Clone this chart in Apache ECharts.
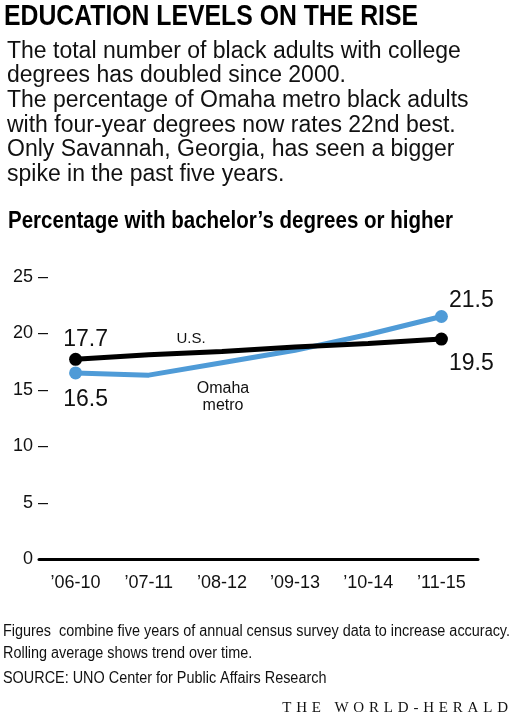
<!DOCTYPE html>
<html>
<head>
<meta charset="utf-8">
<script src="https://cdn.jsdelivr.net/npm/echarts@6/dist/echarts.min.js"></script>
<style>
  html, body { margin: 0; padding: 0; background: #fff; }
  #chart { width: 513px; height: 717px; }
</style>
</head>
<body>
<div id="chart"></div>
<script>
// periods on the x axis (five-year rolling averages)
const periods = ['\u201906-10', '\u201907-11', '\u201908-12', '\u201909-13', '\u201910-14', '\u201911-15'];
// percent of black adults with bachelor's degree or higher
const usValues = [17.7, 18.1, 18.4, 18.8, 19.1, 19.5];
const omahaValues = [16.5, 16.3, 17.4, 18.5, 19.9, 21.5];
const yTicks = [0, 5, 10, 15, 20, 25];

const headline = 'EDUCATION LEVELS ON THE RISE';
const bodyLines = [
  'The total number of black adults with college',
  'degrees has doubled since 2000.',
  'The percentage of Omaha metro black adults',
  'with four-year degrees now rates 22nd best.',
  'Only Savannah, Georgia, has seen a bigger',
  'spike in the past five years.'
];
const chartTitle = 'Percentage with bachelor\u2019s degrees or higher';
const noteLines = [
  'Figures  combine five years of annual census survey data to increase accuracy.',
  'Rolling average shows trend over time.',
  'SOURCE: UNO Center for Public Affairs Research'
];
const credit = 'THE WORLD-HERALD';

const SANS = '"Liberation Sans", Arial, sans-serif';
const SERIF = '"Liberation Serif", "DejaVu Serif", serif';
const BLUE = '#4f9bd7';

var chartDom = document.getElementById('chart');
var myChart = echarts.init(chartDom, null, { renderer: 'canvas' });

const measureCtx = document.createElement('canvas').getContext('2d');
function textWidth(text, font) {
  measureCtx.font = font;
  return measureCtx.measureText(text).width;
}
// squeeze a text horizontally so it spans the given width (condensed look)
function fitScale(text, font, width) {
  return width / textWidth(text, font);
}

// end points get a dot and a value label, the middle ones nothing
function buildData(values, firstPos, lastPos, firstOff, lastOff) {
  const last = values.length - 1;
  return values.map(function (v, i) {
    const end = (i === 0 || i === last);
    return {
      value: v,
      symbol: end ? 'circle' : 'none',
      label: {
        show: end,
        position: i === 0 ? firstPos : lastPos,
        offset: i === 0 ? firstOff : lastOff,
        formatter: function (p) { return Number(p.value).toFixed(1); },
        fontFamily: SANS,
        fontSize: 23,
        color: '#111'
      }
    };
  });
}

// letter-spaced credit line, one glyph per element
function creditLetters(text, rightX, y, spacing) {
  const font = '15px ' + SERIF;
  const chars = text.split('');
  const widths = chars.map(function (c) { return textWidth(c, font); });
  let total = widths.reduce(function (a, b) { return a + b; }, 0) + spacing * (chars.length - 1);
  let x = rightX - total;
  return chars.map(function (c, i) {
    const el = {
      type: 'text', x: x, y: y,
      style: { text: c, font: font, fill: '#111', verticalAlign: 'bottom' }
    };
    x += widths[i] + spacing;
    return el;
  });
}

const headFont = 'bold 30px ' + SANS;
const subFont = 'bold 24px ' + SANS;
const noteFont = '16px ' + SANS;
const noteScale = fitScale(noteLines[0], noteFont, 507);

const texts = [
  { type: 'text', x: 4, y: 2, scaleX: fitScale(headline, headFont, 414),
    style: { text: headline, font: headFont, fill: '#000', verticalAlign: 'top' } },
  { type: 'text', x: 7, y: 39,
    style: { text: bodyLines.join('\n'), font: '23px ' + SANS, lineHeight: 24.7, fill: '#111', verticalAlign: 'top' } },
  { type: 'text', x: 8, y: 209, scaleX: fitScale(chartTitle, subFont, 445),
    style: { text: chartTitle, font: subFont, fill: '#000', verticalAlign: 'top' } },
  { type: 'text', x: 3, y: 621, scaleX: noteScale,
    style: { text: noteLines.slice(0, 2).join('\n'), font: noteFont, lineHeight: 22, fill: '#111', verticalAlign: 'top' } },
  { type: 'text', x: 3, y: 671, scaleX: noteScale,
    style: { text: noteLines[2], font: noteFont, fill: '#111', verticalAlign: 'top' } },
  // line names
  { type: 'text', x: 191, y: 339,
    style: { text: 'U.S.', font: '15px ' + SANS, fill: '#111', align: 'center', verticalAlign: 'middle' } },
  { type: 'text', x: 223, y: 397,
    style: { text: 'Omaha\nmetro', font: '16px ' + SANS, lineHeight: 17, fill: '#111', align: 'center', verticalAlign: 'middle' } }
].concat(creditLetters(credit, 508, 716, 4.8));

option = {
  animation: false,
  backgroundColor: '#fff',
  grid: { left: 39, right: 35, top: 277, bottom: 158 },
  xAxis: {
    type: 'category',
    data: periods,
    boundaryGap: true,
    axisLine: { lineStyle: { color: '#000', width: 3 } },
    axisTick: { alignWithLabel: true, length: 7, lineStyle: { color: '#000', width: 3 } },
    axisLabel: { margin: 15, fontFamily: SANS, fontSize: 18, color: '#111' }
  },
  yAxis: {
    type: 'value',
    min: yTicks[0],
    max: yTicks[yTicks.length - 1],
    interval: 5,
    splitLine: { show: false },
    axisLine: { show: false },
    axisTick: { show: false },
    axisLabel: {
      margin: -9,
      formatter: function (v) { return v === 0 ? '{n|0}{h| \u2013}' : '{n|' + v + ' \u2013}'; },
      rich: {
        n: { fontFamily: SANS, fontSize: 18, color: '#111' },
        h: { fontFamily: SANS, fontSize: 18, color: 'transparent' }
      }
    }
  },
  series: [
    {
      name: 'Omaha metro',
      type: 'line',
      data: buildData(omahaValues, 'bottom', 'top', [10, 4], [30, 7]),
      symbolSize: 13,
      lineStyle: { color: BLUE, width: 5 },
      itemStyle: { color: BLUE },
      z: 2
    },
    {
      name: 'U.S.',
      type: 'line',
      data: buildData(usValues, 'top', 'bottom', [10, 3], [30, 2]),
      symbolSize: 13,
      lineStyle: { color: '#000', width: 5 },
      itemStyle: { color: '#000' },
      z: 3
    }
  ],
  graphic: texts
};

myChart.setOption(option);
</script>
</body>
</html>
